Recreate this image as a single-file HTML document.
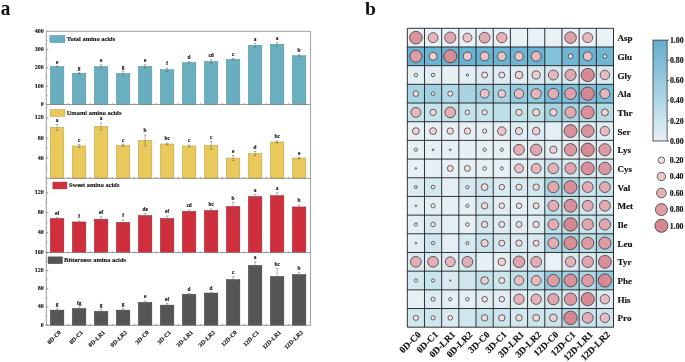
<!DOCTYPE html>
<html><head><meta charset="utf-8"><style>
html,body{margin:0;padding:0;background:#fff;}
svg{display:block;will-change:transform;}
text{font-family:"Liberation Serif",serif;font-weight:bold;fill:#111;}
.sm{stroke:#111;stroke-width:0.12px;}
.md{stroke:#111;stroke-width:0.15px;}
</style></head><body>
<svg width="685" height="362" viewBox="0 0 685 362">
<rect width="685" height="362" fill="#fff"/>
<text transform="translate(0.7,14.9) scale(0.96,1)" font-family="Liberation Serif" font-weight="bold" font-size="20">a</text>
<text transform="translate(365,14.5) scale(1.0,1)" font-family="Liberation Serif" font-weight="bold" font-size="19.6">b</text>
<rect x="50.35" y="66.52" width="13.5" height="37.98" fill="#69afbf" stroke="#4f8e9c" stroke-width="0.5"/>
<path d="M57.10 66.15V66.89M55.80 66.15h2.6M55.80 66.89h2.6" stroke="#666" stroke-width="0.5" fill="none"/>
<text x="57.10" y="63.55" font-family="Liberation Serif" font-weight="bold" font-size="5.3" text-anchor="middle" class="sm">e</text>
<rect x="72.35" y="73.29" width="13.5" height="31.21" fill="#69afbf" stroke="#4f8e9c" stroke-width="0.5"/>
<path d="M79.10 72.56V74.02M77.80 72.56h2.6M77.80 74.02h2.6" stroke="#666" stroke-width="0.5" fill="none"/>
<text x="79.10" y="69.96" font-family="Liberation Serif" font-weight="bold" font-size="5.3" text-anchor="middle" class="sm">g</text>
<rect x="94.35" y="66.52" width="13.5" height="37.98" fill="#69afbf" stroke="#4f8e9c" stroke-width="0.5"/>
<path d="M101.10 64.69V68.35M99.80 64.69h2.6M99.80 68.35h2.6" stroke="#666" stroke-width="0.5" fill="none"/>
<text x="101.10" y="62.09" font-family="Liberation Serif" font-weight="bold" font-size="5.3" text-anchor="middle" class="sm">e</text>
<rect x="116.35" y="73.47" width="13.5" height="31.03" fill="#69afbf" stroke="#4f8e9c" stroke-width="0.5"/>
<path d="M123.10 71.28V75.67M121.80 71.28h2.6M121.80 75.67h2.6" stroke="#666" stroke-width="0.5" fill="none"/>
<text x="123.10" y="68.68" font-family="Liberation Serif" font-weight="bold" font-size="5.3" text-anchor="middle" class="sm">g</text>
<rect x="138.35" y="66.34" width="13.5" height="38.16" fill="#69afbf" stroke="#4f8e9c" stroke-width="0.5"/>
<path d="M145.10 64.69V67.98M143.80 64.69h2.6M143.80 67.98h2.6" stroke="#666" stroke-width="0.5" fill="none"/>
<text x="145.10" y="62.09" font-family="Liberation Serif" font-weight="bold" font-size="5.3" text-anchor="middle" class="sm">e</text>
<rect x="160.35" y="69.63" width="13.5" height="34.87" fill="#69afbf" stroke="#4f8e9c" stroke-width="0.5"/>
<path d="M167.10 67.98V71.28M165.80 67.98h2.6M165.80 71.28h2.6" stroke="#666" stroke-width="0.5" fill="none"/>
<text x="167.10" y="65.38" font-family="Liberation Serif" font-weight="bold" font-size="5.3" text-anchor="middle" class="sm">f</text>
<rect x="182.35" y="62.68" width="13.5" height="41.82" fill="#69afbf" stroke="#4f8e9c" stroke-width="0.5"/>
<path d="M189.10 61.58V63.78M187.80 61.58h2.6M187.80 63.78h2.6" stroke="#666" stroke-width="0.5" fill="none"/>
<text x="189.10" y="58.98" font-family="Liberation Serif" font-weight="bold" font-size="5.3" text-anchor="middle" class="sm">d</text>
<rect x="204.35" y="61.58" width="13.5" height="42.92" fill="#69afbf" stroke="#4f8e9c" stroke-width="0.5"/>
<path d="M211.10 59.75V63.41M209.80 59.75h2.6M209.80 63.41h2.6" stroke="#666" stroke-width="0.5" fill="none"/>
<text x="211.10" y="57.15" font-family="Liberation Serif" font-weight="bold" font-size="5.3" text-anchor="middle" class="sm">cd</text>
<rect x="226.35" y="59.38" width="13.5" height="45.12" fill="#69afbf" stroke="#4f8e9c" stroke-width="0.5"/>
<path d="M233.10 58.47V60.30M231.80 58.47h2.6M231.80 60.30h2.6" stroke="#666" stroke-width="0.5" fill="none"/>
<text x="233.10" y="55.87" font-family="Liberation Serif" font-weight="bold" font-size="5.3" text-anchor="middle" class="sm">c</text>
<rect x="248.35" y="45.29" width="13.5" height="59.21" fill="#69afbf" stroke="#4f8e9c" stroke-width="0.5"/>
<path d="M255.10 43.28V47.30M253.80 43.28h2.6M253.80 47.30h2.6" stroke="#666" stroke-width="0.5" fill="none"/>
<text x="255.10" y="40.68" font-family="Liberation Serif" font-weight="bold" font-size="5.3" text-anchor="middle" class="sm">a</text>
<rect x="270.35" y="44.19" width="13.5" height="60.31" fill="#69afbf" stroke="#4f8e9c" stroke-width="0.5"/>
<path d="M277.10 42.36V46.02M275.80 42.36h2.6M275.80 46.02h2.6" stroke="#666" stroke-width="0.5" fill="none"/>
<text x="277.10" y="39.76" font-family="Liberation Serif" font-weight="bold" font-size="5.3" text-anchor="middle" class="sm">a</text>
<rect x="292.35" y="55.72" width="13.5" height="48.78" fill="#69afbf" stroke="#4f8e9c" stroke-width="0.5"/>
<path d="M299.10 54.63V56.82M297.80 54.63h2.6M297.80 56.82h2.6" stroke="#666" stroke-width="0.5" fill="none"/>
<text x="299.10" y="52.03" font-family="Liberation Serif" font-weight="bold" font-size="5.3" text-anchor="middle" class="sm">b</text>
<text x="43.7" y="106.00" font-family="Liberation Serif" font-weight="bold" font-size="6" text-anchor="end" class="sm">0</text>
<path d="M46.3 104.50h2" stroke="#333" stroke-width="0.6"/>
<text x="43.7" y="87.70" font-family="Liberation Serif" font-weight="bold" font-size="6" text-anchor="end" class="sm">100</text>
<path d="M46.3 86.20h2" stroke="#333" stroke-width="0.6"/>
<text x="43.7" y="69.40" font-family="Liberation Serif" font-weight="bold" font-size="6" text-anchor="end" class="sm">200</text>
<path d="M46.3 67.90h2" stroke="#333" stroke-width="0.6"/>
<text x="43.7" y="51.10" font-family="Liberation Serif" font-weight="bold" font-size="6" text-anchor="end" class="sm">300</text>
<path d="M46.3 49.60h2" stroke="#333" stroke-width="0.6"/>
<text x="43.7" y="32.80" font-family="Liberation Serif" font-weight="bold" font-size="6" text-anchor="end" class="sm">400</text>
<path d="M46.3 31.30h2" stroke="#333" stroke-width="0.6"/>
<path d="M46.3 95.35h1.2" stroke="#333" stroke-width="0.5"/>
<path d="M46.3 77.05h1.2" stroke="#333" stroke-width="0.5"/>
<path d="M46.3 58.75h1.2" stroke="#333" stroke-width="0.5"/>
<path d="M46.3 40.45h1.2" stroke="#333" stroke-width="0.5"/>
<path d="M46.30 104.50v-1.2" stroke="#333" stroke-width="0.6"/>
<path d="M68.30 104.50v-1.2" stroke="#333" stroke-width="0.6"/>
<path d="M90.30 104.50v-1.2" stroke="#333" stroke-width="0.6"/>
<path d="M112.30 104.50v-1.2" stroke="#333" stroke-width="0.6"/>
<path d="M134.30 104.50v-1.2" stroke="#333" stroke-width="0.6"/>
<path d="M156.30 104.50v-1.2" stroke="#333" stroke-width="0.6"/>
<path d="M178.30 104.50v-1.2" stroke="#333" stroke-width="0.6"/>
<path d="M200.30 104.50v-1.2" stroke="#333" stroke-width="0.6"/>
<path d="M222.30 104.50v-1.2" stroke="#333" stroke-width="0.6"/>
<path d="M244.30 104.50v-1.2" stroke="#333" stroke-width="0.6"/>
<path d="M266.30 104.50v-1.2" stroke="#333" stroke-width="0.6"/>
<path d="M288.30 104.50v-1.2" stroke="#333" stroke-width="0.6"/>
<path d="M310.30 104.50v-1.2" stroke="#333" stroke-width="0.6"/>
<rect x="49.9" y="35.5" width="15" height="7.1" fill="#69afbf" stroke="#4f8e9c" stroke-width="0.5"/>
<text x="66.8" y="41.3" font-family="Liberation Serif" font-weight="bold" font-size="6.45" class="sm">Total amino acids</text>
<path d="M46.3 31.3V104.5M310.5 31.3V104.5" stroke="#a4a4a4" stroke-width="1.1" fill="none"/>
<path d="M46.3 104.5H310.5" stroke="#808080" stroke-width="0.8" fill="none"/>
<rect x="50.35" y="127.39" width="13.5" height="50.91" fill="#e9c95b" stroke="#b59a3c" stroke-width="0.5"/>
<path d="M57.10 124.38V130.41M55.80 124.38h2.6M55.80 130.41h2.6" stroke="#666" stroke-width="0.5" fill="none"/>
<text x="57.10" y="121.78" font-family="Liberation Serif" font-weight="bold" font-size="5.3" text-anchor="middle" class="sm">a</text>
<rect x="72.35" y="145.99" width="13.5" height="32.31" fill="#e9c95b" stroke="#b59a3c" stroke-width="0.5"/>
<path d="M79.10 144.48V147.49M77.80 144.48h2.6M77.80 147.49h2.6" stroke="#666" stroke-width="0.5" fill="none"/>
<text x="79.10" y="141.88" font-family="Liberation Serif" font-weight="bold" font-size="5.3" text-anchor="middle" class="sm">c</text>
<rect x="94.35" y="126.39" width="13.5" height="51.91" fill="#e9c95b" stroke="#b59a3c" stroke-width="0.5"/>
<path d="M101.10 122.87V129.91M99.80 122.87h2.6M99.80 129.91h2.6" stroke="#666" stroke-width="0.5" fill="none"/>
<text x="101.10" y="120.27" font-family="Liberation Serif" font-weight="bold" font-size="5.3" text-anchor="middle" class="sm">a</text>
<rect x="116.35" y="145.48" width="13.5" height="32.82" fill="#e9c95b" stroke="#b59a3c" stroke-width="0.5"/>
<path d="M123.10 144.48V146.49M121.80 144.48h2.6M121.80 146.49h2.6" stroke="#666" stroke-width="0.5" fill="none"/>
<text x="123.10" y="141.88" font-family="Liberation Serif" font-weight="bold" font-size="5.3" text-anchor="middle" class="sm">c</text>
<rect x="138.35" y="140.46" width="13.5" height="37.84" fill="#e9c95b" stroke="#b59a3c" stroke-width="0.5"/>
<path d="M145.10 134.93V145.99M143.80 134.93h2.6M143.80 145.99h2.6" stroke="#666" stroke-width="0.5" fill="none"/>
<text x="145.10" y="132.33" font-family="Liberation Serif" font-weight="bold" font-size="5.3" text-anchor="middle" class="sm">b</text>
<rect x="160.35" y="143.98" width="13.5" height="34.32" fill="#e9c95b" stroke="#b59a3c" stroke-width="0.5"/>
<path d="M167.10 142.97V144.98M165.80 142.97h2.6M165.80 144.98h2.6" stroke="#666" stroke-width="0.5" fill="none"/>
<text x="167.10" y="140.37" font-family="Liberation Serif" font-weight="bold" font-size="5.3" text-anchor="middle" class="sm">bc</text>
<rect x="182.35" y="145.99" width="13.5" height="32.31" fill="#e9c95b" stroke="#b59a3c" stroke-width="0.5"/>
<path d="M189.10 144.98V146.99M187.80 144.98h2.6M187.80 146.99h2.6" stroke="#666" stroke-width="0.5" fill="none"/>
<text x="189.10" y="142.38" font-family="Liberation Serif" font-weight="bold" font-size="5.3" text-anchor="middle" class="sm">c</text>
<rect x="204.35" y="145.48" width="13.5" height="32.82" fill="#e9c95b" stroke="#b59a3c" stroke-width="0.5"/>
<path d="M211.10 141.46V149.50M209.80 141.46h2.6M209.80 149.50h2.6" stroke="#666" stroke-width="0.5" fill="none"/>
<text x="211.10" y="138.86" font-family="Liberation Serif" font-weight="bold" font-size="5.3" text-anchor="middle" class="sm">c</text>
<rect x="226.35" y="158.05" width="13.5" height="20.25" fill="#e9c95b" stroke="#b59a3c" stroke-width="0.5"/>
<path d="M233.10 155.53V160.56M231.80 155.53h2.6M231.80 160.56h2.6" stroke="#666" stroke-width="0.5" fill="none"/>
<text x="233.10" y="152.94" font-family="Liberation Serif" font-weight="bold" font-size="5.3" text-anchor="middle" class="sm">e</text>
<rect x="248.35" y="153.52" width="13.5" height="24.78" fill="#e9c95b" stroke="#b59a3c" stroke-width="0.5"/>
<path d="M255.10 151.51V155.53M253.80 151.51h2.6M253.80 155.53h2.6" stroke="#666" stroke-width="0.5" fill="none"/>
<text x="255.10" y="148.91" font-family="Liberation Serif" font-weight="bold" font-size="5.3" text-anchor="middle" class="sm">d</text>
<rect x="270.35" y="141.97" width="13.5" height="36.33" fill="#e9c95b" stroke="#b59a3c" stroke-width="0.5"/>
<path d="M277.10 140.96V142.97M275.80 140.96h2.6M275.80 142.97h2.6" stroke="#666" stroke-width="0.5" fill="none"/>
<text x="277.10" y="138.36" font-family="Liberation Serif" font-weight="bold" font-size="5.3" text-anchor="middle" class="sm">bc</text>
<rect x="292.35" y="158.05" width="13.5" height="20.25" fill="#e9c95b" stroke="#b59a3c" stroke-width="0.5"/>
<path d="M299.10 157.29V158.80M297.80 157.29h2.6M297.80 158.80h2.6" stroke="#666" stroke-width="0.5" fill="none"/>
<text x="299.10" y="154.69" font-family="Liberation Serif" font-weight="bold" font-size="5.3" text-anchor="middle" class="sm">e</text>
<text x="43.7" y="159.60" font-family="Liberation Serif" font-weight="bold" font-size="6" text-anchor="end" class="sm">40</text>
<path d="M46.3 158.10h2" stroke="#333" stroke-width="0.6"/>
<text x="43.7" y="139.50" font-family="Liberation Serif" font-weight="bold" font-size="6" text-anchor="end" class="sm">80</text>
<path d="M46.3 138.00h2" stroke="#333" stroke-width="0.6"/>
<text x="43.7" y="119.40" font-family="Liberation Serif" font-weight="bold" font-size="6" text-anchor="end" class="sm">120</text>
<path d="M46.3 117.90h2" stroke="#333" stroke-width="0.6"/>
<path d="M46.3 168.15h1.2" stroke="#333" stroke-width="0.5"/>
<path d="M46.3 148.05h1.2" stroke="#333" stroke-width="0.5"/>
<path d="M46.3 127.95h1.2" stroke="#333" stroke-width="0.5"/>
<path d="M46.3 107.85h1.2" stroke="#333" stroke-width="0.5"/>
<path d="M46.30 178.30v-1.2" stroke="#333" stroke-width="0.6"/>
<path d="M68.30 178.30v-1.2" stroke="#333" stroke-width="0.6"/>
<path d="M90.30 178.30v-1.2" stroke="#333" stroke-width="0.6"/>
<path d="M112.30 178.30v-1.2" stroke="#333" stroke-width="0.6"/>
<path d="M134.30 178.30v-1.2" stroke="#333" stroke-width="0.6"/>
<path d="M156.30 178.30v-1.2" stroke="#333" stroke-width="0.6"/>
<path d="M178.30 178.30v-1.2" stroke="#333" stroke-width="0.6"/>
<path d="M200.30 178.30v-1.2" stroke="#333" stroke-width="0.6"/>
<path d="M222.30 178.30v-1.2" stroke="#333" stroke-width="0.6"/>
<path d="M244.30 178.30v-1.2" stroke="#333" stroke-width="0.6"/>
<path d="M266.30 178.30v-1.2" stroke="#333" stroke-width="0.6"/>
<path d="M288.30 178.30v-1.2" stroke="#333" stroke-width="0.6"/>
<path d="M310.30 178.30v-1.2" stroke="#333" stroke-width="0.6"/>
<rect x="50.3" y="109.7" width="14.6" height="6.6" fill="#e9c95b" stroke="#b59a3c" stroke-width="0.5"/>
<text x="66.7" y="114.8" font-family="Liberation Serif" font-weight="bold" font-size="6.45" class="sm">Umami amino acids</text>
<path d="M46.3 104.5V178.3M310.5 104.5V178.3" stroke="#a4a4a4" stroke-width="1.1" fill="none"/>
<path d="M46.3 178.3H310.5" stroke="#808080" stroke-width="0.8" fill="none"/>
<rect x="50.35" y="218.47" width="13.5" height="34.13" fill="#cf2f3c" stroke="#9c2530" stroke-width="0.5"/>
<path d="M57.10 217.48V219.47M55.80 217.48h2.6M55.80 219.47h2.6" stroke="#666" stroke-width="0.5" fill="none"/>
<text x="57.10" y="214.88" font-family="Liberation Serif" font-weight="bold" font-size="5.3" text-anchor="middle" class="sm">ef</text>
<rect x="72.35" y="221.96" width="13.5" height="30.64" fill="#cf2f3c" stroke="#9c2530" stroke-width="0.5"/>
<path d="M79.10 220.96V222.95M77.80 220.96h2.6M77.80 222.95h2.6" stroke="#666" stroke-width="0.5" fill="none"/>
<text x="79.10" y="218.36" font-family="Liberation Serif" font-weight="bold" font-size="5.3" text-anchor="middle" class="sm">f</text>
<rect x="94.35" y="219.22" width="13.5" height="33.38" fill="#cf2f3c" stroke="#9c2530" stroke-width="0.5"/>
<path d="M101.10 216.73V221.71M99.80 216.73h2.6M99.80 221.71h2.6" stroke="#666" stroke-width="0.5" fill="none"/>
<text x="101.10" y="214.13" font-family="Liberation Serif" font-weight="bold" font-size="5.3" text-anchor="middle" class="sm">ef</text>
<rect x="116.35" y="222.35" width="13.5" height="30.25" fill="#cf2f3c" stroke="#9c2530" stroke-width="0.5"/>
<path d="M123.10 219.87V224.84M121.80 219.87h2.6M121.80 224.84h2.6" stroke="#666" stroke-width="0.5" fill="none"/>
<text x="123.10" y="217.27" font-family="Liberation Serif" font-weight="bold" font-size="5.3" text-anchor="middle" class="sm">f</text>
<rect x="138.35" y="215.54" width="13.5" height="37.06" fill="#cf2f3c" stroke="#9c2530" stroke-width="0.5"/>
<path d="M145.10 213.55V217.53M143.80 213.55h2.6M143.80 217.53h2.6" stroke="#666" stroke-width="0.5" fill="none"/>
<text x="145.10" y="210.95" font-family="Liberation Serif" font-weight="bold" font-size="5.3" text-anchor="middle" class="sm">de</text>
<rect x="160.35" y="218.47" width="13.5" height="34.13" fill="#cf2f3c" stroke="#9c2530" stroke-width="0.5"/>
<path d="M167.10 215.99V220.96M165.80 215.99h2.6M165.80 220.96h2.6" stroke="#666" stroke-width="0.5" fill="none"/>
<text x="167.10" y="213.39" font-family="Liberation Serif" font-weight="bold" font-size="5.3" text-anchor="middle" class="sm">ef</text>
<rect x="182.35" y="211.36" width="13.5" height="41.24" fill="#cf2f3c" stroke="#9c2530" stroke-width="0.5"/>
<path d="M189.10 209.87V212.85M187.80 209.87h2.6M187.80 212.85h2.6" stroke="#666" stroke-width="0.5" fill="none"/>
<text x="189.10" y="207.27" font-family="Liberation Serif" font-weight="bold" font-size="5.3" text-anchor="middle" class="sm">cd</text>
<rect x="204.35" y="210.46" width="13.5" height="42.14" fill="#cf2f3c" stroke="#9c2530" stroke-width="0.5"/>
<path d="M211.10 208.97V211.96M209.80 208.97h2.6M209.80 211.96h2.6" stroke="#666" stroke-width="0.5" fill="none"/>
<text x="211.10" y="206.37" font-family="Liberation Serif" font-weight="bold" font-size="5.3" text-anchor="middle" class="sm">bc</text>
<rect x="226.35" y="206.43" width="13.5" height="46.17" fill="#cf2f3c" stroke="#9c2530" stroke-width="0.5"/>
<path d="M233.10 202.45V210.41M231.80 202.45h2.6M231.80 210.41h2.6" stroke="#666" stroke-width="0.5" fill="none"/>
<text x="233.10" y="199.85" font-family="Liberation Serif" font-weight="bold" font-size="5.3" text-anchor="middle" class="sm">b</text>
<rect x="248.35" y="196.53" width="13.5" height="56.07" fill="#cf2f3c" stroke="#9c2530" stroke-width="0.5"/>
<path d="M255.10 194.54V198.52M253.80 194.54h2.6M253.80 198.52h2.6" stroke="#666" stroke-width="0.5" fill="none"/>
<text x="255.10" y="191.94" font-family="Liberation Serif" font-weight="bold" font-size="5.3" text-anchor="middle" class="sm">a</text>
<rect x="270.35" y="195.64" width="13.5" height="56.96" fill="#cf2f3c" stroke="#9c2530" stroke-width="0.5"/>
<path d="M277.10 192.65V198.62M275.80 192.65h2.6M275.80 198.62h2.6" stroke="#666" stroke-width="0.5" fill="none"/>
<text x="277.10" y="190.05" font-family="Liberation Serif" font-weight="bold" font-size="5.3" text-anchor="middle" class="sm">a</text>
<rect x="292.35" y="206.93" width="13.5" height="45.67" fill="#cf2f3c" stroke="#9c2530" stroke-width="0.5"/>
<path d="M299.10 204.94V208.92M297.80 204.94h2.6M297.80 208.92h2.6" stroke="#666" stroke-width="0.5" fill="none"/>
<text x="299.10" y="202.34" font-family="Liberation Serif" font-weight="bold" font-size="5.3" text-anchor="middle" class="sm">b</text>
<text x="43.7" y="234.20" font-family="Liberation Serif" font-weight="bold" font-size="6" text-anchor="end" class="sm">40</text>
<path d="M46.3 232.70h2" stroke="#333" stroke-width="0.6"/>
<text x="43.7" y="214.30" font-family="Liberation Serif" font-weight="bold" font-size="6" text-anchor="end" class="sm">80</text>
<path d="M46.3 212.80h2" stroke="#333" stroke-width="0.6"/>
<text x="43.7" y="194.40" font-family="Liberation Serif" font-weight="bold" font-size="6" text-anchor="end" class="sm">120</text>
<path d="M46.3 192.90h2" stroke="#333" stroke-width="0.6"/>
<path d="M46.3 242.65h1.2" stroke="#333" stroke-width="0.5"/>
<path d="M46.3 222.75h1.2" stroke="#333" stroke-width="0.5"/>
<path d="M46.3 202.85h1.2" stroke="#333" stroke-width="0.5"/>
<path d="M46.3 182.95h1.2" stroke="#333" stroke-width="0.5"/>
<path d="M46.30 252.60v-1.2" stroke="#333" stroke-width="0.6"/>
<path d="M68.30 252.60v-1.2" stroke="#333" stroke-width="0.6"/>
<path d="M90.30 252.60v-1.2" stroke="#333" stroke-width="0.6"/>
<path d="M112.30 252.60v-1.2" stroke="#333" stroke-width="0.6"/>
<path d="M134.30 252.60v-1.2" stroke="#333" stroke-width="0.6"/>
<path d="M156.30 252.60v-1.2" stroke="#333" stroke-width="0.6"/>
<path d="M178.30 252.60v-1.2" stroke="#333" stroke-width="0.6"/>
<path d="M200.30 252.60v-1.2" stroke="#333" stroke-width="0.6"/>
<path d="M222.30 252.60v-1.2" stroke="#333" stroke-width="0.6"/>
<path d="M244.30 252.60v-1.2" stroke="#333" stroke-width="0.6"/>
<path d="M266.30 252.60v-1.2" stroke="#333" stroke-width="0.6"/>
<path d="M288.30 252.60v-1.2" stroke="#333" stroke-width="0.6"/>
<path d="M310.30 252.60v-1.2" stroke="#333" stroke-width="0.6"/>
<rect x="52.9" y="182.1" width="14" height="6.8" fill="#cf2f3c" stroke="#9c2530" stroke-width="0.5"/>
<text x="69" y="187.2" font-family="Liberation Serif" font-weight="bold" font-size="6.45" class="sm">Sweet amino acids</text>
<path d="M46.3 178.3V252.6M310.5 178.3V252.6" stroke="#a4a4a4" stroke-width="1.1" fill="none"/>
<path d="M46.3 252.6H310.5" stroke="#808080" stroke-width="0.8" fill="none"/>
<rect x="50.35" y="310.12" width="13.5" height="15.18" fill="#555555" stroke="#3a3a3a" stroke-width="0.5"/>
<path d="M57.10 308.76V311.48M55.80 308.76h2.6M55.80 311.48h2.6" stroke="#666" stroke-width="0.5" fill="none"/>
<text x="57.10" y="306.16" font-family="Liberation Serif" font-weight="bold" font-size="5.3" text-anchor="middle" class="sm">g</text>
<rect x="72.35" y="308.58" width="13.5" height="16.72" fill="#555555" stroke="#3a3a3a" stroke-width="0.5"/>
<path d="M79.10 307.67V309.49M77.80 307.67h2.6M77.80 309.49h2.6" stroke="#666" stroke-width="0.5" fill="none"/>
<text x="79.10" y="305.07" font-family="Liberation Serif" font-weight="bold" font-size="5.3" text-anchor="middle" class="sm">fg</text>
<rect x="94.35" y="311.35" width="13.5" height="13.95" fill="#555555" stroke="#3a3a3a" stroke-width="0.5"/>
<path d="M101.10 309.53V313.16M99.80 309.53h2.6M99.80 313.16h2.6" stroke="#666" stroke-width="0.5" fill="none"/>
<text x="101.10" y="306.93" font-family="Liberation Serif" font-weight="bold" font-size="5.3" text-anchor="middle" class="sm">g</text>
<rect x="116.35" y="310.12" width="13.5" height="15.18" fill="#555555" stroke="#3a3a3a" stroke-width="0.5"/>
<path d="M123.10 308.76V311.48M121.80 308.76h2.6M121.80 311.48h2.6" stroke="#666" stroke-width="0.5" fill="none"/>
<text x="123.10" y="306.16" font-family="Liberation Serif" font-weight="bold" font-size="5.3" text-anchor="middle" class="sm">g</text>
<rect x="138.35" y="302.41" width="13.5" height="22.89" fill="#555555" stroke="#3a3a3a" stroke-width="0.5"/>
<path d="M145.10 301.05V303.77M143.80 301.05h2.6M143.80 303.77h2.6" stroke="#666" stroke-width="0.5" fill="none"/>
<text x="145.10" y="298.45" font-family="Liberation Serif" font-weight="bold" font-size="5.3" text-anchor="middle" class="sm">e</text>
<rect x="160.35" y="305.13" width="13.5" height="20.17" fill="#555555" stroke="#3a3a3a" stroke-width="0.5"/>
<path d="M167.10 303.32V306.95M165.80 303.32h2.6M165.80 306.95h2.6" stroke="#666" stroke-width="0.5" fill="none"/>
<text x="167.10" y="300.72" font-family="Liberation Serif" font-weight="bold" font-size="5.3" text-anchor="middle" class="sm">ef</text>
<rect x="182.35" y="294.38" width="13.5" height="30.92" fill="#555555" stroke="#3a3a3a" stroke-width="0.5"/>
<path d="M189.10 293.47V295.28M187.80 293.47h2.6M187.80 295.28h2.6" stroke="#666" stroke-width="0.5" fill="none"/>
<text x="189.10" y="290.87" font-family="Liberation Serif" font-weight="bold" font-size="5.3" text-anchor="middle" class="sm">d</text>
<rect x="204.35" y="293.06" width="13.5" height="32.24" fill="#555555" stroke="#3a3a3a" stroke-width="0.5"/>
<path d="M211.10 292.15V293.97M209.80 292.15h2.6M209.80 293.97h2.6" stroke="#666" stroke-width="0.5" fill="none"/>
<text x="211.10" y="289.55" font-family="Liberation Serif" font-weight="bold" font-size="5.3" text-anchor="middle" class="sm">d</text>
<rect x="226.35" y="279.59" width="13.5" height="45.71" fill="#555555" stroke="#3a3a3a" stroke-width="0.5"/>
<path d="M233.10 276.86V282.31M231.80 276.86h2.6M231.80 282.31h2.6" stroke="#666" stroke-width="0.5" fill="none"/>
<text x="233.10" y="274.26" font-family="Liberation Serif" font-weight="bold" font-size="5.3" text-anchor="middle" class="sm">c</text>
<rect x="248.35" y="265.47" width="13.5" height="59.83" fill="#555555" stroke="#3a3a3a" stroke-width="0.5"/>
<path d="M255.10 261.84V269.10M253.80 261.84h2.6M253.80 269.10h2.6" stroke="#666" stroke-width="0.5" fill="none"/>
<text x="255.10" y="259.24" font-family="Liberation Serif" font-weight="bold" font-size="5.3" text-anchor="middle" class="sm">a</text>
<rect x="270.35" y="276.45" width="13.5" height="48.85" fill="#555555" stroke="#3a3a3a" stroke-width="0.5"/>
<path d="M277.10 268.29V284.62M275.80 268.29h2.6M275.80 284.62h2.6" stroke="#666" stroke-width="0.5" fill="none"/>
<text x="277.10" y="265.69" font-family="Liberation Serif" font-weight="bold" font-size="5.3" text-anchor="middle" class="sm">bc</text>
<rect x="292.35" y="274.59" width="13.5" height="50.71" fill="#555555" stroke="#3a3a3a" stroke-width="0.5"/>
<path d="M299.10 272.33V276.86M297.80 272.33h2.6M297.80 276.86h2.6" stroke="#666" stroke-width="0.5" fill="none"/>
<text x="299.10" y="269.73" font-family="Liberation Serif" font-weight="bold" font-size="5.3" text-anchor="middle" class="sm">b</text>
<text x="43.7" y="326.60" font-family="Liberation Serif" font-weight="bold" font-size="6" text-anchor="end" class="sm">0</text>
<path d="M46.3 325.10h2" stroke="#333" stroke-width="0.6"/>
<text x="43.7" y="308.45" font-family="Liberation Serif" font-weight="bold" font-size="6" text-anchor="end" class="sm">40</text>
<path d="M46.3 306.95h2" stroke="#333" stroke-width="0.6"/>
<text x="43.7" y="290.30" font-family="Liberation Serif" font-weight="bold" font-size="6" text-anchor="end" class="sm">80</text>
<path d="M46.3 288.80h2" stroke="#333" stroke-width="0.6"/>
<text x="43.7" y="272.15" font-family="Liberation Serif" font-weight="bold" font-size="6" text-anchor="end" class="sm">120</text>
<path d="M46.3 270.65h2" stroke="#333" stroke-width="0.6"/>
<text x="43.7" y="254.00" font-family="Liberation Serif" font-weight="bold" font-size="6" text-anchor="end" class="sm">160</text>
<path d="M46.3 252.50h2" stroke="#333" stroke-width="0.6"/>
<path d="M46.3 316.03h1.2" stroke="#333" stroke-width="0.5"/>
<path d="M46.3 297.88h1.2" stroke="#333" stroke-width="0.5"/>
<path d="M46.3 279.73h1.2" stroke="#333" stroke-width="0.5"/>
<path d="M46.3 261.58h1.2" stroke="#333" stroke-width="0.5"/>
<path d="M46.30 325.30v-1.2" stroke="#333" stroke-width="0.6"/>
<path d="M68.30 325.30v-1.2" stroke="#333" stroke-width="0.6"/>
<path d="M90.30 325.30v-1.2" stroke="#333" stroke-width="0.6"/>
<path d="M112.30 325.30v-1.2" stroke="#333" stroke-width="0.6"/>
<path d="M134.30 325.30v-1.2" stroke="#333" stroke-width="0.6"/>
<path d="M156.30 325.30v-1.2" stroke="#333" stroke-width="0.6"/>
<path d="M178.30 325.30v-1.2" stroke="#333" stroke-width="0.6"/>
<path d="M200.30 325.30v-1.2" stroke="#333" stroke-width="0.6"/>
<path d="M222.30 325.30v-1.2" stroke="#333" stroke-width="0.6"/>
<path d="M244.30 325.30v-1.2" stroke="#333" stroke-width="0.6"/>
<path d="M266.30 325.30v-1.2" stroke="#333" stroke-width="0.6"/>
<path d="M288.30 325.30v-1.2" stroke="#333" stroke-width="0.6"/>
<path d="M310.30 325.30v-1.2" stroke="#333" stroke-width="0.6"/>
<rect x="48.1" y="256.9" width="14.3" height="6.7" fill="#555555" stroke="#3a3a3a" stroke-width="0.5"/>
<text x="64.1" y="261.7" font-family="Liberation Serif" font-weight="bold" font-size="6.45" class="sm">Bitterness amino acids</text>
<path d="M46.3 252.6V325.3M310.5 252.6V325.3" stroke="#a4a4a4" stroke-width="1.1" fill="none"/>
<path d="M46.3 325.3H310.5" stroke="#808080" stroke-width="0.8" fill="none"/>
<path d="M46.3 31.3H310.5" stroke="#a0a0a0" stroke-width="1"/>
<text transform="translate(58.65,330.05) rotate(-45)" font-family="Liberation Serif" font-weight="bold" font-size="6" text-anchor="end" dominant-baseline="hanging" class="sm">0D-C0</text>
<text transform="translate(80.65,330.05) rotate(-45)" font-family="Liberation Serif" font-weight="bold" font-size="6" text-anchor="end" dominant-baseline="hanging" class="sm">0D-C1</text>
<text transform="translate(102.65,330.05) rotate(-45)" font-family="Liberation Serif" font-weight="bold" font-size="6" text-anchor="end" dominant-baseline="hanging" class="sm">0D-LR1</text>
<text transform="translate(124.65,330.05) rotate(-45)" font-family="Liberation Serif" font-weight="bold" font-size="6" text-anchor="end" dominant-baseline="hanging" class="sm">0D-LR2</text>
<text transform="translate(146.65,330.05) rotate(-45)" font-family="Liberation Serif" font-weight="bold" font-size="6" text-anchor="end" dominant-baseline="hanging" class="sm">3D-C0</text>
<text transform="translate(168.65,330.05) rotate(-45)" font-family="Liberation Serif" font-weight="bold" font-size="6" text-anchor="end" dominant-baseline="hanging" class="sm">3D-C1</text>
<text transform="translate(190.65,330.05) rotate(-45)" font-family="Liberation Serif" font-weight="bold" font-size="6" text-anchor="end" dominant-baseline="hanging" class="sm">3D-LR1</text>
<text transform="translate(212.65,330.05) rotate(-45)" font-family="Liberation Serif" font-weight="bold" font-size="6" text-anchor="end" dominant-baseline="hanging" class="sm">3D-LR2</text>
<text transform="translate(234.65,330.05) rotate(-45)" font-family="Liberation Serif" font-weight="bold" font-size="6" text-anchor="end" dominant-baseline="hanging" class="sm">12D-C0</text>
<text transform="translate(256.65,330.05) rotate(-45)" font-family="Liberation Serif" font-weight="bold" font-size="6" text-anchor="end" dominant-baseline="hanging" class="sm">12D-C1</text>
<text transform="translate(278.65,330.05) rotate(-45)" font-family="Liberation Serif" font-weight="bold" font-size="6" text-anchor="end" dominant-baseline="hanging" class="sm">12D-LR1</text>
<text transform="translate(300.65,330.05) rotate(-45)" font-family="Liberation Serif" font-weight="bold" font-size="6" text-anchor="end" dominant-baseline="hanging" class="sm">12D-LR2</text>
<rect x="407.30" y="28.30" width="17.18" height="18.68" fill="#e9f0f6"/>
<rect x="424.48" y="28.30" width="17.18" height="18.68" fill="#e9f0f6"/>
<rect x="441.67" y="28.30" width="17.18" height="18.68" fill="#e9f0f6"/>
<rect x="458.85" y="28.30" width="17.18" height="18.68" fill="#e9f0f6"/>
<rect x="476.03" y="28.30" width="17.18" height="18.68" fill="#e9f0f6"/>
<rect x="493.22" y="28.30" width="17.18" height="18.68" fill="#e9f0f6"/>
<rect x="510.40" y="28.30" width="17.18" height="18.68" fill="#e9f0f6"/>
<rect x="527.58" y="28.30" width="17.18" height="18.68" fill="#e9f0f6"/>
<rect x="544.77" y="28.30" width="17.18" height="18.68" fill="#e9f0f6"/>
<rect x="561.95" y="28.30" width="17.18" height="18.68" fill="#e9f0f6"/>
<rect x="579.13" y="28.30" width="17.18" height="18.68" fill="#e9f0f6"/>
<rect x="596.32" y="28.30" width="17.18" height="18.68" fill="#e9f0f6"/>
<rect x="407.30" y="46.98" width="17.18" height="18.68" fill="#6ab3d3"/>
<rect x="424.48" y="46.98" width="17.18" height="18.68" fill="#6bb3d3"/>
<rect x="441.67" y="46.98" width="17.18" height="18.68" fill="#6db4d3"/>
<rect x="458.85" y="46.98" width="17.18" height="18.68" fill="#6ab2d2"/>
<rect x="476.03" y="46.98" width="17.18" height="18.68" fill="#6db4d3"/>
<rect x="493.22" y="46.98" width="17.18" height="18.68" fill="#6bb3d3"/>
<rect x="510.40" y="46.98" width="17.18" height="18.68" fill="#6db4d3"/>
<rect x="527.58" y="46.98" width="17.18" height="18.68" fill="#6ab2d2"/>
<rect x="544.77" y="46.98" width="17.18" height="18.68" fill="#80c3d9"/>
<rect x="561.95" y="46.98" width="17.18" height="18.68" fill="#70b5d2"/>
<rect x="579.13" y="46.98" width="17.18" height="18.68" fill="#6db4d3"/>
<rect x="596.32" y="46.98" width="17.18" height="18.68" fill="#70b5d2"/>
<rect x="407.30" y="65.66" width="17.18" height="18.68" fill="#e3eff4"/>
<rect x="424.48" y="65.66" width="17.18" height="18.68" fill="#e0edf3"/>
<rect x="441.67" y="65.66" width="17.18" height="18.68" fill="#e6f0f5"/>
<rect x="458.85" y="65.66" width="17.18" height="18.68" fill="#e3eff4"/>
<rect x="476.03" y="65.66" width="17.18" height="18.68" fill="#dcecf2"/>
<rect x="493.22" y="65.66" width="17.18" height="18.68" fill="#dcecf2"/>
<rect x="510.40" y="65.66" width="17.18" height="18.68" fill="#dcecf2"/>
<rect x="527.58" y="65.66" width="17.18" height="18.68" fill="#d8eaf0"/>
<rect x="544.77" y="65.66" width="17.18" height="18.68" fill="#d6e9f0"/>
<rect x="561.95" y="65.66" width="17.18" height="18.68" fill="#d6e9f0"/>
<rect x="579.13" y="65.66" width="17.18" height="18.68" fill="#dcecf2"/>
<rect x="596.32" y="65.66" width="17.18" height="18.68" fill="#d8eaf0"/>
<rect x="407.30" y="84.34" width="17.18" height="18.68" fill="#a6d4e3"/>
<rect x="424.48" y="84.34" width="17.18" height="18.68" fill="#a1d1e1"/>
<rect x="441.67" y="84.34" width="17.18" height="18.68" fill="#b0d8e6"/>
<rect x="458.85" y="84.34" width="17.18" height="18.68" fill="#a7d3e3"/>
<rect x="476.03" y="84.34" width="17.18" height="18.68" fill="#a1d1e1"/>
<rect x="493.22" y="84.34" width="17.18" height="18.68" fill="#a8d4e2"/>
<rect x="510.40" y="84.34" width="17.18" height="18.68" fill="#93cbdf"/>
<rect x="527.58" y="84.34" width="17.18" height="18.68" fill="#90cade"/>
<rect x="544.77" y="84.34" width="17.18" height="18.68" fill="#75bcda"/>
<rect x="561.95" y="84.34" width="17.18" height="18.68" fill="#7bbfdb"/>
<rect x="579.13" y="84.34" width="17.18" height="18.68" fill="#86c3db"/>
<rect x="596.32" y="84.34" width="17.18" height="18.68" fill="#78bddb"/>
<rect x="407.30" y="103.02" width="17.18" height="18.68" fill="#c5e3ea"/>
<rect x="424.48" y="103.02" width="17.18" height="18.68" fill="#c5e3ea"/>
<rect x="441.67" y="103.02" width="17.18" height="18.68" fill="#c5e3ea"/>
<rect x="458.85" y="103.02" width="17.18" height="18.68" fill="#c5e3ea"/>
<rect x="476.03" y="103.02" width="17.18" height="18.68" fill="#c5e3ea"/>
<rect x="493.22" y="103.02" width="17.18" height="18.68" fill="#bcdfe8"/>
<rect x="510.40" y="103.02" width="17.18" height="18.68" fill="#c2e2ea"/>
<rect x="527.58" y="103.02" width="17.18" height="18.68" fill="#bde0e8"/>
<rect x="544.77" y="103.02" width="17.18" height="18.68" fill="#a7d3e1"/>
<rect x="561.95" y="103.02" width="17.18" height="18.68" fill="#a8d4e1"/>
<rect x="579.13" y="103.02" width="17.18" height="18.68" fill="#b5dbe6"/>
<rect x="596.32" y="103.02" width="17.18" height="18.68" fill="#b5dae4"/>
<rect x="407.30" y="121.71" width="17.18" height="18.68" fill="#e6eff4"/>
<rect x="424.48" y="121.71" width="17.18" height="18.68" fill="#e6eff4"/>
<rect x="441.67" y="121.71" width="17.18" height="18.68" fill="#e6eff4"/>
<rect x="458.85" y="121.71" width="17.18" height="18.68" fill="#e6eff4"/>
<rect x="476.03" y="121.71" width="17.18" height="18.68" fill="#e6eff4"/>
<rect x="493.22" y="121.71" width="17.18" height="18.68" fill="#e6eff4"/>
<rect x="510.40" y="121.71" width="17.18" height="18.68" fill="#dcedf3"/>
<rect x="527.58" y="121.71" width="17.18" height="18.68" fill="#dcedf3"/>
<rect x="544.77" y="121.71" width="17.18" height="18.68" fill="#e3eff4"/>
<rect x="561.95" y="121.71" width="17.18" height="18.68" fill="#dcedf3"/>
<rect x="579.13" y="121.71" width="17.18" height="18.68" fill="#dcedf3"/>
<rect x="596.32" y="121.71" width="17.18" height="18.68" fill="#dcedf3"/>
<rect x="407.30" y="140.39" width="17.18" height="18.68" fill="#e6f0f5"/>
<rect x="424.48" y="140.39" width="17.18" height="18.68" fill="#e6f0f5"/>
<rect x="441.67" y="140.39" width="17.18" height="18.68" fill="#e6f0f5"/>
<rect x="458.85" y="140.39" width="17.18" height="18.68" fill="#e6f0f5"/>
<rect x="476.03" y="140.39" width="17.18" height="18.68" fill="#e6f0f5"/>
<rect x="493.22" y="140.39" width="17.18" height="18.68" fill="#e6f0f5"/>
<rect x="510.40" y="140.39" width="17.18" height="18.68" fill="#e2eef4"/>
<rect x="527.58" y="140.39" width="17.18" height="18.68" fill="#e2eef4"/>
<rect x="544.77" y="140.39" width="17.18" height="18.68" fill="#e2eef4"/>
<rect x="561.95" y="140.39" width="17.18" height="18.68" fill="#e2eef4"/>
<rect x="579.13" y="140.39" width="17.18" height="18.68" fill="#e2eef4"/>
<rect x="596.32" y="140.39" width="17.18" height="18.68" fill="#e2eef4"/>
<rect x="407.30" y="159.07" width="17.18" height="18.68" fill="#e6f0f5"/>
<rect x="424.48" y="159.07" width="17.18" height="18.68" fill="#e6f0f5"/>
<rect x="441.67" y="159.07" width="17.18" height="18.68" fill="#e6f0f5"/>
<rect x="458.85" y="159.07" width="17.18" height="18.68" fill="#e6f0f5"/>
<rect x="476.03" y="159.07" width="17.18" height="18.68" fill="#e6f0f5"/>
<rect x="493.22" y="159.07" width="17.18" height="18.68" fill="#e6f0f5"/>
<rect x="510.40" y="159.07" width="17.18" height="18.68" fill="#e0edf3"/>
<rect x="527.58" y="159.07" width="17.18" height="18.68" fill="#dbebf2"/>
<rect x="544.77" y="159.07" width="17.18" height="18.68" fill="#cde6ee"/>
<rect x="561.95" y="159.07" width="17.18" height="18.68" fill="#d4e9f0"/>
<rect x="579.13" y="159.07" width="17.18" height="18.68" fill="#d4e8ef"/>
<rect x="596.32" y="159.07" width="17.18" height="18.68" fill="#d6eaf1"/>
<rect x="407.30" y="177.75" width="17.18" height="18.68" fill="#dcecf2"/>
<rect x="424.48" y="177.75" width="17.18" height="18.68" fill="#d3e8ef"/>
<rect x="441.67" y="177.75" width="17.18" height="18.68" fill="#e3eff4"/>
<rect x="458.85" y="177.75" width="17.18" height="18.68" fill="#d6e9f0"/>
<rect x="476.03" y="177.75" width="17.18" height="18.68" fill="#cfe6ee"/>
<rect x="493.22" y="177.75" width="17.18" height="18.68" fill="#dbebf2"/>
<rect x="510.40" y="177.75" width="17.18" height="18.68" fill="#d6e9f0"/>
<rect x="527.58" y="177.75" width="17.18" height="18.68" fill="#d0e7ee"/>
<rect x="544.77" y="177.75" width="17.18" height="18.68" fill="#a8d4e1"/>
<rect x="561.95" y="177.75" width="17.18" height="18.68" fill="#b0d8e4"/>
<rect x="579.13" y="177.75" width="17.18" height="18.68" fill="#c8e4ec"/>
<rect x="596.32" y="177.75" width="17.18" height="18.68" fill="#c2e2ea"/>
<rect x="407.30" y="196.43" width="17.18" height="18.68" fill="#e4eff4"/>
<rect x="424.48" y="196.43" width="17.18" height="18.68" fill="#e4eff4"/>
<rect x="441.67" y="196.43" width="17.18" height="18.68" fill="#e4eff4"/>
<rect x="458.85" y="196.43" width="17.18" height="18.68" fill="#e4eff4"/>
<rect x="476.03" y="196.43" width="17.18" height="18.68" fill="#d7eaf0"/>
<rect x="493.22" y="196.43" width="17.18" height="18.68" fill="#e0edf3"/>
<rect x="510.40" y="196.43" width="17.18" height="18.68" fill="#e3eff4"/>
<rect x="527.58" y="196.43" width="17.18" height="18.68" fill="#e0edf3"/>
<rect x="544.77" y="196.43" width="17.18" height="18.68" fill="#c2e2ea"/>
<rect x="561.95" y="196.43" width="17.18" height="18.68" fill="#c5e3ea"/>
<rect x="579.13" y="196.43" width="17.18" height="18.68" fill="#d1e7ef"/>
<rect x="596.32" y="196.43" width="17.18" height="18.68" fill="#d3e8ef"/>
<rect x="407.30" y="215.11" width="17.18" height="18.68" fill="#e3eff4"/>
<rect x="424.48" y="215.11" width="17.18" height="18.68" fill="#d8eaf0"/>
<rect x="441.67" y="215.11" width="17.18" height="18.68" fill="#e4eff4"/>
<rect x="458.85" y="215.11" width="17.18" height="18.68" fill="#e6f0f5"/>
<rect x="476.03" y="215.11" width="17.18" height="18.68" fill="#d6e9f0"/>
<rect x="493.22" y="215.11" width="17.18" height="18.68" fill="#dcecf2"/>
<rect x="510.40" y="215.11" width="17.18" height="18.68" fill="#dfedf3"/>
<rect x="527.58" y="215.11" width="17.18" height="18.68" fill="#deedf2"/>
<rect x="544.77" y="215.11" width="17.18" height="18.68" fill="#bfe0e9"/>
<rect x="561.95" y="215.11" width="17.18" height="18.68" fill="#b9dee7"/>
<rect x="579.13" y="215.11" width="17.18" height="18.68" fill="#cbe4ed"/>
<rect x="596.32" y="215.11" width="17.18" height="18.68" fill="#c8e3ec"/>
<rect x="407.30" y="233.79" width="17.18" height="18.68" fill="#e3eff4"/>
<rect x="424.48" y="233.79" width="17.18" height="18.68" fill="#cfe6ee"/>
<rect x="441.67" y="233.79" width="17.18" height="18.68" fill="#e4eff4"/>
<rect x="458.85" y="233.79" width="17.18" height="18.68" fill="#d6e9f0"/>
<rect x="476.03" y="233.79" width="17.18" height="18.68" fill="#cbe4ed"/>
<rect x="493.22" y="233.79" width="17.18" height="18.68" fill="#d3e8ef"/>
<rect x="510.40" y="233.79" width="17.18" height="18.68" fill="#d8eaf0"/>
<rect x="527.58" y="233.79" width="17.18" height="18.68" fill="#d9ebf1"/>
<rect x="544.77" y="233.79" width="17.18" height="18.68" fill="#a8d4e1"/>
<rect x="561.95" y="233.79" width="17.18" height="18.68" fill="#a4d2e0"/>
<rect x="579.13" y="233.79" width="17.18" height="18.68" fill="#bcdfe8"/>
<rect x="596.32" y="233.79" width="17.18" height="18.68" fill="#a8d4e1"/>
<rect x="407.30" y="252.47" width="17.18" height="18.68" fill="#d8eaf0"/>
<rect x="424.48" y="252.47" width="17.18" height="18.68" fill="#d8eaf0"/>
<rect x="441.67" y="252.47" width="17.18" height="18.68" fill="#dcecf2"/>
<rect x="458.85" y="252.47" width="17.18" height="18.68" fill="#d4e9f0"/>
<rect x="476.03" y="252.47" width="17.18" height="18.68" fill="#e6f0f5"/>
<rect x="493.22" y="252.47" width="17.18" height="18.68" fill="#e3eff4"/>
<rect x="510.40" y="252.47" width="17.18" height="18.68" fill="#d8eaf0"/>
<rect x="527.58" y="252.47" width="17.18" height="18.68" fill="#d8eaf0"/>
<rect x="544.77" y="252.47" width="17.18" height="18.68" fill="#e8f1f6"/>
<rect x="561.95" y="252.47" width="17.18" height="18.68" fill="#d8eaf0"/>
<rect x="579.13" y="252.47" width="17.18" height="18.68" fill="#d6e9f0"/>
<rect x="596.32" y="252.47" width="17.18" height="18.68" fill="#d3e8ef"/>
<rect x="407.30" y="271.16" width="17.18" height="18.68" fill="#d3e8ef"/>
<rect x="424.48" y="271.16" width="17.18" height="18.68" fill="#c8e4ec"/>
<rect x="441.67" y="271.16" width="17.18" height="18.68" fill="#d8eaf0"/>
<rect x="458.85" y="271.16" width="17.18" height="18.68" fill="#cfe6ee"/>
<rect x="476.03" y="271.16" width="17.18" height="18.68" fill="#c2e2ea"/>
<rect x="493.22" y="271.16" width="17.18" height="18.68" fill="#cde5ed"/>
<rect x="510.40" y="271.16" width="17.18" height="18.68" fill="#bfe0e9"/>
<rect x="527.58" y="271.16" width="17.18" height="18.68" fill="#b9dee7"/>
<rect x="544.77" y="271.16" width="17.18" height="18.68" fill="#97ccdf"/>
<rect x="561.95" y="271.16" width="17.18" height="18.68" fill="#a1d0df"/>
<rect x="579.13" y="271.16" width="17.18" height="18.68" fill="#b0d8e4"/>
<rect x="596.32" y="271.16" width="17.18" height="18.68" fill="#97ccdf"/>
<rect x="407.30" y="289.84" width="17.18" height="18.68" fill="#e6f0f5"/>
<rect x="424.48" y="289.84" width="17.18" height="18.68" fill="#dcecf2"/>
<rect x="441.67" y="289.84" width="17.18" height="18.68" fill="#e3eff4"/>
<rect x="458.85" y="289.84" width="17.18" height="18.68" fill="#e3eff4"/>
<rect x="476.03" y="289.84" width="17.18" height="18.68" fill="#e0edf3"/>
<rect x="493.22" y="289.84" width="17.18" height="18.68" fill="#e0edf3"/>
<rect x="510.40" y="289.84" width="17.18" height="18.68" fill="#dcecf2"/>
<rect x="527.58" y="289.84" width="17.18" height="18.68" fill="#dcecf2"/>
<rect x="544.77" y="289.84" width="17.18" height="18.68" fill="#d1e7ef"/>
<rect x="561.95" y="289.84" width="17.18" height="18.68" fill="#d3e8ef"/>
<rect x="579.13" y="289.84" width="17.18" height="18.68" fill="#d6e9f0"/>
<rect x="596.32" y="289.84" width="17.18" height="18.68" fill="#dcecf2"/>
<rect x="407.30" y="308.52" width="17.18" height="18.68" fill="#d0e7ee"/>
<rect x="424.48" y="308.52" width="17.18" height="18.68" fill="#cde5ed"/>
<rect x="441.67" y="308.52" width="17.18" height="18.68" fill="#d8eaf0"/>
<rect x="458.85" y="308.52" width="17.18" height="18.68" fill="#d0e7ee"/>
<rect x="476.03" y="308.52" width="17.18" height="18.68" fill="#c5e3ea"/>
<rect x="493.22" y="308.52" width="17.18" height="18.68" fill="#cbe4ed"/>
<rect x="510.40" y="308.52" width="17.18" height="18.68" fill="#d3e8ef"/>
<rect x="527.58" y="308.52" width="17.18" height="18.68" fill="#cde5ed"/>
<rect x="544.77" y="308.52" width="17.18" height="18.68" fill="#cbe4ed"/>
<rect x="561.95" y="308.52" width="17.18" height="18.68" fill="#b5dae4"/>
<rect x="579.13" y="308.52" width="17.18" height="18.68" fill="#c8e4ec"/>
<rect x="596.32" y="308.52" width="17.18" height="18.68" fill="#cbe4ed"/>
<circle cx="415.89" cy="37.64" r="6.36" fill="#da929c" stroke="#2a2a2a" stroke-width="0.7"/>
<circle cx="433.07" cy="37.64" r="4.97" fill="#e7b7bd" stroke="#2a2a2a" stroke-width="0.7"/>
<circle cx="450.26" cy="37.64" r="5.61" fill="#e1a7ae" stroke="#2a2a2a" stroke-width="0.7"/>
<circle cx="467.44" cy="37.64" r="4.49" fill="#eac1c6" stroke="#2a2a2a" stroke-width="0.7"/>
<circle cx="484.62" cy="37.64" r="5.40" fill="#e3acb3" stroke="#2a2a2a" stroke-width="0.7"/>
<circle cx="501.81" cy="37.64" r="5.19" fill="#e5b2b8" stroke="#2a2a2a" stroke-width="0.7"/>
<circle cx="570.54" cy="37.64" r="5.80" fill="#dfa2aa" stroke="#2a2a2a" stroke-width="0.7"/>
<circle cx="587.73" cy="37.64" r="4.97" fill="#e7b7bd" stroke="#2a2a2a" stroke-width="0.7"/>
<circle cx="415.89" cy="56.32" r="5.99" fill="#dd9da5" stroke="#2a2a2a" stroke-width="0.7"/>
<circle cx="433.07" cy="56.32" r="3.96" fill="#eeccd0" stroke="#2a2a2a" stroke-width="0.7"/>
<circle cx="450.26" cy="56.32" r="6.53" fill="#d88d97" stroke="#2a2a2a" stroke-width="0.7"/>
<circle cx="467.44" cy="56.32" r="4.24" fill="#ecc6cb" stroke="#2a2a2a" stroke-width="0.7"/>
<circle cx="484.62" cy="56.32" r="4.49" fill="#eac1c6" stroke="#2a2a2a" stroke-width="0.7"/>
<circle cx="501.81" cy="56.32" r="4.34" fill="#ebc4c9" stroke="#2a2a2a" stroke-width="0.7"/>
<circle cx="518.99" cy="56.32" r="4.24" fill="#ecc6cb" stroke="#2a2a2a" stroke-width="0.7"/>
<circle cx="536.17" cy="56.32" r="4.97" fill="#e7b7bd" stroke="#2a2a2a" stroke-width="0.7"/>
<circle cx="570.54" cy="56.32" r="2.32" fill="#f7e4e6" stroke="#2a2a2a" stroke-width="0.7"/>
<circle cx="587.73" cy="56.32" r="4.49" fill="#eac1c6" stroke="#2a2a2a" stroke-width="0.7"/>
<circle cx="604.91" cy="56.32" r="1.90" fill="#f8e8e9" stroke="#2a2a2a" stroke-width="0.7"/>
<circle cx="415.89" cy="75.00" r="1.77" fill="#f8e9ea" stroke="#2a2a2a" stroke-width="0.7"/>
<circle cx="433.07" cy="75.00" r="1.77" fill="#f8e9ea" stroke="#2a2a2a" stroke-width="0.7"/>
<circle cx="467.44" cy="75.00" r="1.16" fill="#faedee" stroke="#2a2a2a" stroke-width="0.7"/>
<circle cx="484.62" cy="75.00" r="3.00" fill="#f4dbde" stroke="#2a2a2a" stroke-width="0.7"/>
<circle cx="501.81" cy="75.00" r="3.00" fill="#f4dbde" stroke="#2a2a2a" stroke-width="0.7"/>
<circle cx="518.99" cy="75.00" r="3.85" fill="#efced2" stroke="#2a2a2a" stroke-width="0.7"/>
<circle cx="536.17" cy="75.00" r="4.08" fill="#edcace" stroke="#2a2a2a" stroke-width="0.7"/>
<circle cx="553.36" cy="75.00" r="4.97" fill="#e7b7bd" stroke="#2a2a2a" stroke-width="0.7"/>
<circle cx="570.54" cy="75.00" r="5.61" fill="#e1a7ae" stroke="#2a2a2a" stroke-width="0.7"/>
<circle cx="587.73" cy="75.00" r="6.63" fill="#d78a94" stroke="#2a2a2a" stroke-width="0.7"/>
<circle cx="604.91" cy="75.00" r="4.74" fill="#e8bcc2" stroke="#2a2a2a" stroke-width="0.7"/>
<circle cx="415.89" cy="93.68" r="2.76" fill="#f5dee1" stroke="#2a2a2a" stroke-width="0.7"/>
<circle cx="433.07" cy="93.68" r="1.77" fill="#f8e9ea" stroke="#2a2a2a" stroke-width="0.7"/>
<circle cx="450.26" cy="93.68" r="2.51" fill="#f6e1e4" stroke="#2a2a2a" stroke-width="0.7"/>
<circle cx="484.62" cy="93.68" r="4.49" fill="#eac1c6" stroke="#2a2a2a" stroke-width="0.7"/>
<circle cx="501.81" cy="93.68" r="3.85" fill="#efced2" stroke="#2a2a2a" stroke-width="0.7"/>
<circle cx="518.99" cy="93.68" r="4.74" fill="#e8bcc2" stroke="#2a2a2a" stroke-width="0.7"/>
<circle cx="536.17" cy="93.68" r="5.10" fill="#e6b4ba" stroke="#2a2a2a" stroke-width="0.7"/>
<circle cx="553.36" cy="93.68" r="5.36" fill="#e3adb4" stroke="#2a2a2a" stroke-width="0.7"/>
<circle cx="570.54" cy="93.68" r="5.80" fill="#dfa2aa" stroke="#2a2a2a" stroke-width="0.7"/>
<circle cx="587.73" cy="93.68" r="6.70" fill="#d68892" stroke="#2a2a2a" stroke-width="0.7"/>
<circle cx="604.91" cy="93.68" r="4.97" fill="#e7b7bd" stroke="#2a2a2a" stroke-width="0.7"/>
<circle cx="415.89" cy="112.37" r="4.97" fill="#e7b7bd" stroke="#2a2a2a" stroke-width="0.7"/>
<circle cx="433.07" cy="112.37" r="3.21" fill="#f2d8db" stroke="#2a2a2a" stroke-width="0.7"/>
<circle cx="450.26" cy="112.37" r="5.36" fill="#e3adb4" stroke="#2a2a2a" stroke-width="0.7"/>
<circle cx="467.44" cy="112.37" r="2.32" fill="#f7e4e6" stroke="#2a2a2a" stroke-width="0.7"/>
<circle cx="484.62" cy="112.37" r="2.59" fill="#f5e0e3" stroke="#2a2a2a" stroke-width="0.7"/>
<circle cx="518.99" cy="112.37" r="3.21" fill="#f2d8db" stroke="#2a2a2a" stroke-width="0.7"/>
<circle cx="536.17" cy="112.37" r="3.67" fill="#f0d1d4" stroke="#2a2a2a" stroke-width="0.7"/>
<circle cx="553.36" cy="112.37" r="3.67" fill="#f0d1d4" stroke="#2a2a2a" stroke-width="0.7"/>
<circle cx="570.54" cy="112.37" r="5.61" fill="#e1a7ae" stroke="#2a2a2a" stroke-width="0.7"/>
<circle cx="587.73" cy="112.37" r="6.43" fill="#d9909a" stroke="#2a2a2a" stroke-width="0.7"/>
<circle cx="604.91" cy="112.37" r="3.48" fill="#f1d4d7" stroke="#2a2a2a" stroke-width="0.7"/>
<circle cx="415.89" cy="131.05" r="3.42" fill="#f1d5d8" stroke="#2a2a2a" stroke-width="0.7"/>
<circle cx="433.07" cy="131.05" r="3.42" fill="#f1d5d8" stroke="#2a2a2a" stroke-width="0.7"/>
<circle cx="450.26" cy="131.05" r="3.21" fill="#f2d8db" stroke="#2a2a2a" stroke-width="0.7"/>
<circle cx="467.44" cy="131.05" r="3.21" fill="#f2d8db" stroke="#2a2a2a" stroke-width="0.7"/>
<circle cx="484.62" cy="131.05" r="2.12" fill="#f7e6e8" stroke="#2a2a2a" stroke-width="0.7"/>
<circle cx="501.81" cy="131.05" r="4.24" fill="#ecc6cb" stroke="#2a2a2a" stroke-width="0.7"/>
<circle cx="518.99" cy="131.05" r="3.67" fill="#f0d1d4" stroke="#2a2a2a" stroke-width="0.7"/>
<circle cx="536.17" cy="131.05" r="3.85" fill="#efced2" stroke="#2a2a2a" stroke-width="0.7"/>
<circle cx="570.54" cy="131.05" r="6.43" fill="#d9909a" stroke="#2a2a2a" stroke-width="0.7"/>
<circle cx="587.73" cy="131.05" r="6.29" fill="#da949d" stroke="#2a2a2a" stroke-width="0.7"/>
<circle cx="604.91" cy="131.05" r="4.74" fill="#e8bcc2" stroke="#2a2a2a" stroke-width="0.7"/>
<circle cx="415.89" cy="149.73" r="1.64" fill="#f9eaeb" stroke="#2a2a2a" stroke-width="0.7"/>
<circle cx="433.07" cy="149.73" r="0.95" fill="#faeeef" stroke="#2a2a2a" stroke-width="0.7"/>
<circle cx="450.26" cy="149.73" r="0.95" fill="#faeeef" stroke="#2a2a2a" stroke-width="0.7"/>
<circle cx="484.62" cy="149.73" r="1.64" fill="#f9eaeb" stroke="#2a2a2a" stroke-width="0.7"/>
<circle cx="501.81" cy="149.73" r="1.64" fill="#f9eaeb" stroke="#2a2a2a" stroke-width="0.7"/>
<circle cx="518.99" cy="149.73" r="5.36" fill="#e3adb4" stroke="#2a2a2a" stroke-width="0.7"/>
<circle cx="536.17" cy="149.73" r="5.69" fill="#e0a5ad" stroke="#2a2a2a" stroke-width="0.7"/>
<circle cx="553.36" cy="149.73" r="3.67" fill="#f0d1d4" stroke="#2a2a2a" stroke-width="0.7"/>
<circle cx="570.54" cy="149.73" r="6.18" fill="#dc98a0" stroke="#2a2a2a" stroke-width="0.7"/>
<circle cx="587.73" cy="149.73" r="6.63" fill="#d78a94" stroke="#2a2a2a" stroke-width="0.7"/>
<circle cx="604.91" cy="149.73" r="6.07" fill="#dd9ba3" stroke="#2a2a2a" stroke-width="0.7"/>
<circle cx="415.89" cy="168.41" r="0.82" fill="#faeef0" stroke="#2a2a2a" stroke-width="0.7"/>
<circle cx="450.26" cy="168.41" r="3.00" fill="#f4dbde" stroke="#2a2a2a" stroke-width="0.7"/>
<circle cx="467.44" cy="168.41" r="3.00" fill="#f4dbde" stroke="#2a2a2a" stroke-width="0.7"/>
<circle cx="484.62" cy="168.41" r="1.90" fill="#f8e8e9" stroke="#2a2a2a" stroke-width="0.7"/>
<circle cx="501.81" cy="168.41" r="1.64" fill="#f9eaeb" stroke="#2a2a2a" stroke-width="0.7"/>
<circle cx="518.99" cy="168.41" r="4.49" fill="#eac1c6" stroke="#2a2a2a" stroke-width="0.7"/>
<circle cx="536.17" cy="168.41" r="4.97" fill="#e7b7bd" stroke="#2a2a2a" stroke-width="0.7"/>
<circle cx="553.36" cy="168.41" r="5.28" fill="#e4b0b6" stroke="#2a2a2a" stroke-width="0.7"/>
<circle cx="570.54" cy="168.41" r="5.69" fill="#e0a5ad" stroke="#2a2a2a" stroke-width="0.7"/>
<circle cx="587.73" cy="168.41" r="6.43" fill="#d9909a" stroke="#2a2a2a" stroke-width="0.7"/>
<circle cx="604.91" cy="168.41" r="6.21" fill="#db979f" stroke="#2a2a2a" stroke-width="0.7"/>
<circle cx="415.89" cy="187.09" r="1.50" fill="#f9ebec" stroke="#2a2a2a" stroke-width="0.7"/>
<circle cx="433.07" cy="187.09" r="1.90" fill="#f8e8e9" stroke="#2a2a2a" stroke-width="0.7"/>
<circle cx="467.44" cy="187.09" r="1.64" fill="#f9eaeb" stroke="#2a2a2a" stroke-width="0.7"/>
<circle cx="484.62" cy="187.09" r="3.42" fill="#f1d5d8" stroke="#2a2a2a" stroke-width="0.7"/>
<circle cx="501.81" cy="187.09" r="2.76" fill="#f5dee1" stroke="#2a2a2a" stroke-width="0.7"/>
<circle cx="518.99" cy="187.09" r="3.00" fill="#f4dbde" stroke="#2a2a2a" stroke-width="0.7"/>
<circle cx="536.17" cy="187.09" r="3.21" fill="#f2d8db" stroke="#2a2a2a" stroke-width="0.7"/>
<circle cx="553.36" cy="187.09" r="5.61" fill="#e1a7ae" stroke="#2a2a2a" stroke-width="0.7"/>
<circle cx="570.54" cy="187.09" r="6.43" fill="#d9909a" stroke="#2a2a2a" stroke-width="0.7"/>
<circle cx="587.73" cy="187.09" r="5.40" fill="#e3acb3" stroke="#2a2a2a" stroke-width="0.7"/>
<circle cx="604.91" cy="187.09" r="5.40" fill="#e3acb3" stroke="#2a2a2a" stroke-width="0.7"/>
<circle cx="415.89" cy="205.77" r="0.82" fill="#faeef0" stroke="#2a2a2a" stroke-width="0.7"/>
<circle cx="433.07" cy="205.77" r="2.12" fill="#f7e6e8" stroke="#2a2a2a" stroke-width="0.7"/>
<circle cx="467.44" cy="205.77" r="1.64" fill="#f9eaeb" stroke="#2a2a2a" stroke-width="0.7"/>
<circle cx="484.62" cy="205.77" r="3.21" fill="#f2d8db" stroke="#2a2a2a" stroke-width="0.7"/>
<circle cx="501.81" cy="205.77" r="2.76" fill="#f5dee1" stroke="#2a2a2a" stroke-width="0.7"/>
<circle cx="518.99" cy="205.77" r="2.76" fill="#f5dee1" stroke="#2a2a2a" stroke-width="0.7"/>
<circle cx="536.17" cy="205.77" r="3.00" fill="#f4dbde" stroke="#2a2a2a" stroke-width="0.7"/>
<circle cx="553.36" cy="205.77" r="5.40" fill="#e3acb3" stroke="#2a2a2a" stroke-width="0.7"/>
<circle cx="570.54" cy="205.77" r="6.43" fill="#d9909a" stroke="#2a2a2a" stroke-width="0.7"/>
<circle cx="587.73" cy="205.77" r="5.40" fill="#e3acb3" stroke="#2a2a2a" stroke-width="0.7"/>
<circle cx="604.91" cy="205.77" r="5.40" fill="#e3acb3" stroke="#2a2a2a" stroke-width="0.7"/>
<circle cx="415.89" cy="224.45" r="1.64" fill="#f9eaeb" stroke="#2a2a2a" stroke-width="0.7"/>
<circle cx="433.07" cy="224.45" r="2.32" fill="#f7e4e6" stroke="#2a2a2a" stroke-width="0.7"/>
<circle cx="467.44" cy="224.45" r="1.90" fill="#f8e8e9" stroke="#2a2a2a" stroke-width="0.7"/>
<circle cx="484.62" cy="224.45" r="3.21" fill="#f2d8db" stroke="#2a2a2a" stroke-width="0.7"/>
<circle cx="501.81" cy="224.45" r="3.00" fill="#f4dbde" stroke="#2a2a2a" stroke-width="0.7"/>
<circle cx="518.99" cy="224.45" r="3.00" fill="#f4dbde" stroke="#2a2a2a" stroke-width="0.7"/>
<circle cx="536.17" cy="224.45" r="3.21" fill="#f2d8db" stroke="#2a2a2a" stroke-width="0.7"/>
<circle cx="553.36" cy="224.45" r="5.40" fill="#e3acb3" stroke="#2a2a2a" stroke-width="0.7"/>
<circle cx="570.54" cy="224.45" r="6.70" fill="#d68892" stroke="#2a2a2a" stroke-width="0.7"/>
<circle cx="587.73" cy="224.45" r="5.61" fill="#e1a7ae" stroke="#2a2a2a" stroke-width="0.7"/>
<circle cx="604.91" cy="224.45" r="5.61" fill="#e1a7ae" stroke="#2a2a2a" stroke-width="0.7"/>
<circle cx="415.89" cy="243.13" r="0.82" fill="#faeef0" stroke="#2a2a2a" stroke-width="0.7"/>
<circle cx="433.07" cy="243.13" r="1.64" fill="#f9eaeb" stroke="#2a2a2a" stroke-width="0.7"/>
<circle cx="467.44" cy="243.13" r="1.50" fill="#f9ebec" stroke="#2a2a2a" stroke-width="0.7"/>
<circle cx="484.62" cy="243.13" r="3.67" fill="#f0d1d4" stroke="#2a2a2a" stroke-width="0.7"/>
<circle cx="501.81" cy="243.13" r="3.00" fill="#f4dbde" stroke="#2a2a2a" stroke-width="0.7"/>
<circle cx="518.99" cy="243.13" r="3.21" fill="#f2d8db" stroke="#2a2a2a" stroke-width="0.7"/>
<circle cx="536.17" cy="243.13" r="3.00" fill="#f4dbde" stroke="#2a2a2a" stroke-width="0.7"/>
<circle cx="553.36" cy="243.13" r="5.40" fill="#e3acb3" stroke="#2a2a2a" stroke-width="0.7"/>
<circle cx="570.54" cy="243.13" r="6.53" fill="#d88d97" stroke="#2a2a2a" stroke-width="0.7"/>
<circle cx="587.73" cy="243.13" r="6.07" fill="#dd9ba3" stroke="#2a2a2a" stroke-width="0.7"/>
<circle cx="604.91" cy="243.13" r="6.07" fill="#dd9ba3" stroke="#2a2a2a" stroke-width="0.7"/>
<circle cx="415.89" cy="261.82" r="5.36" fill="#e3adb4" stroke="#2a2a2a" stroke-width="0.7"/>
<circle cx="433.07" cy="261.82" r="5.36" fill="#e3adb4" stroke="#2a2a2a" stroke-width="0.7"/>
<circle cx="450.26" cy="261.82" r="4.97" fill="#e7b7bd" stroke="#2a2a2a" stroke-width="0.7"/>
<circle cx="467.44" cy="261.82" r="5.36" fill="#e3adb4" stroke="#2a2a2a" stroke-width="0.7"/>
<circle cx="501.81" cy="261.82" r="3.85" fill="#efced2" stroke="#2a2a2a" stroke-width="0.7"/>
<circle cx="518.99" cy="261.82" r="5.80" fill="#dfa2aa" stroke="#2a2a2a" stroke-width="0.7"/>
<circle cx="536.17" cy="261.82" r="5.40" fill="#e3acb3" stroke="#2a2a2a" stroke-width="0.7"/>
<circle cx="570.54" cy="261.82" r="5.19" fill="#e5b2b8" stroke="#2a2a2a" stroke-width="0.7"/>
<circle cx="587.73" cy="261.82" r="5.69" fill="#e0a5ad" stroke="#2a2a2a" stroke-width="0.7"/>
<circle cx="604.91" cy="261.82" r="6.43" fill="#d9909a" stroke="#2a2a2a" stroke-width="0.7"/>
<circle cx="415.89" cy="280.50" r="1.64" fill="#f9eaeb" stroke="#2a2a2a" stroke-width="0.7"/>
<circle cx="433.07" cy="280.50" r="1.64" fill="#f9eaeb" stroke="#2a2a2a" stroke-width="0.7"/>
<circle cx="450.26" cy="280.50" r="0.67" fill="#fbeff0" stroke="#2a2a2a" stroke-width="0.7"/>
<circle cx="484.62" cy="280.50" r="3.85" fill="#efced2" stroke="#2a2a2a" stroke-width="0.7"/>
<circle cx="501.81" cy="280.50" r="3.00" fill="#f4dbde" stroke="#2a2a2a" stroke-width="0.7"/>
<circle cx="518.99" cy="280.50" r="4.74" fill="#e8bcc2" stroke="#2a2a2a" stroke-width="0.7"/>
<circle cx="536.17" cy="280.50" r="4.97" fill="#e7b7bd" stroke="#2a2a2a" stroke-width="0.7"/>
<circle cx="553.36" cy="280.50" r="6.07" fill="#dd9ba3" stroke="#2a2a2a" stroke-width="0.7"/>
<circle cx="570.54" cy="280.50" r="6.43" fill="#d9909a" stroke="#2a2a2a" stroke-width="0.7"/>
<circle cx="587.73" cy="280.50" r="6.07" fill="#dd9ba3" stroke="#2a2a2a" stroke-width="0.7"/>
<circle cx="604.91" cy="280.50" r="6.63" fill="#d78a94" stroke="#2a2a2a" stroke-width="0.7"/>
<circle cx="433.07" cy="299.18" r="2.12" fill="#f7e6e8" stroke="#2a2a2a" stroke-width="0.7"/>
<circle cx="450.26" cy="299.18" r="1.64" fill="#f9eaeb" stroke="#2a2a2a" stroke-width="0.7"/>
<circle cx="467.44" cy="299.18" r="1.77" fill="#f8e9ea" stroke="#2a2a2a" stroke-width="0.7"/>
<circle cx="484.62" cy="299.18" r="2.76" fill="#f5dee1" stroke="#2a2a2a" stroke-width="0.7"/>
<circle cx="501.81" cy="299.18" r="2.76" fill="#f5dee1" stroke="#2a2a2a" stroke-width="0.7"/>
<circle cx="518.99" cy="299.18" r="5.19" fill="#e5b2b8" stroke="#2a2a2a" stroke-width="0.7"/>
<circle cx="536.17" cy="299.18" r="5.19" fill="#e5b2b8" stroke="#2a2a2a" stroke-width="0.7"/>
<circle cx="553.36" cy="299.18" r="5.61" fill="#e1a7ae" stroke="#2a2a2a" stroke-width="0.7"/>
<circle cx="570.54" cy="299.18" r="6.18" fill="#dc98a0" stroke="#2a2a2a" stroke-width="0.7"/>
<circle cx="587.73" cy="299.18" r="6.63" fill="#d78a94" stroke="#2a2a2a" stroke-width="0.7"/>
<circle cx="604.91" cy="299.18" r="4.74" fill="#e8bcc2" stroke="#2a2a2a" stroke-width="0.7"/>
<circle cx="415.89" cy="317.86" r="2.59" fill="#f5e0e3" stroke="#2a2a2a" stroke-width="0.7"/>
<circle cx="433.07" cy="317.86" r="2.12" fill="#f7e6e8" stroke="#2a2a2a" stroke-width="0.7"/>
<circle cx="450.26" cy="317.86" r="2.32" fill="#f7e4e6" stroke="#2a2a2a" stroke-width="0.7"/>
<circle cx="484.62" cy="317.86" r="3.21" fill="#f2d8db" stroke="#2a2a2a" stroke-width="0.7"/>
<circle cx="501.81" cy="317.86" r="3.21" fill="#f2d8db" stroke="#2a2a2a" stroke-width="0.7"/>
<circle cx="518.99" cy="317.86" r="3.21" fill="#f2d8db" stroke="#2a2a2a" stroke-width="0.7"/>
<circle cx="536.17" cy="317.86" r="3.48" fill="#f1d4d7" stroke="#2a2a2a" stroke-width="0.7"/>
<circle cx="553.36" cy="317.86" r="3.85" fill="#efced2" stroke="#2a2a2a" stroke-width="0.7"/>
<circle cx="570.54" cy="317.86" r="6.70" fill="#d68892" stroke="#2a2a2a" stroke-width="0.7"/>
<circle cx="587.73" cy="317.86" r="5.40" fill="#e3acb3" stroke="#2a2a2a" stroke-width="0.7"/>
<circle cx="604.91" cy="317.86" r="4.74" fill="#e8bcc2" stroke="#2a2a2a" stroke-width="0.7"/>
<path d="M407.30 28.3V327.2M424.48 28.3V327.2M441.67 28.3V327.2M458.85 28.3V327.2M476.03 28.3V327.2M493.22 28.3V327.2M510.40 28.3V327.2M527.58 28.3V327.2M544.77 28.3V327.2M561.95 28.3V327.2M579.13 28.3V327.2M596.32 28.3V327.2M613.50 28.3V327.2M407.3 28.30H613.5M407.3 46.98H613.5M407.3 65.66H613.5M407.3 84.34H613.5M407.3 103.02H613.5M407.3 121.71H613.5M407.3 140.39H613.5M407.3 159.07H613.5M407.3 177.75H613.5M407.3 196.43H613.5M407.3 215.11H613.5M407.3 233.79H613.5M407.3 252.47H613.5M407.3 271.16H613.5M407.3 289.84H613.5M407.3 308.52H613.5M407.3 327.20H613.5" stroke="#0e0e0e" stroke-width="0.85" fill="none"/>
<text x="617.5" y="41.14" font-family="Liberation Serif" font-weight="bold" font-size="9.1" class="md">Asp</text>
<text x="617.5" y="59.82" font-family="Liberation Serif" font-weight="bold" font-size="9.1" class="md">Glu</text>
<text x="617.5" y="78.50" font-family="Liberation Serif" font-weight="bold" font-size="9.1" class="md">Gly</text>
<text x="617.5" y="97.18" font-family="Liberation Serif" font-weight="bold" font-size="9.1" class="md">Ala</text>
<text x="617.5" y="115.87" font-family="Liberation Serif" font-weight="bold" font-size="9.1" class="md">Thr</text>
<text x="617.5" y="134.55" font-family="Liberation Serif" font-weight="bold" font-size="9.1" class="md">Ser</text>
<text x="617.5" y="153.23" font-family="Liberation Serif" font-weight="bold" font-size="9.1" class="md">Lys</text>
<text x="617.5" y="171.91" font-family="Liberation Serif" font-weight="bold" font-size="9.1" class="md">Cys</text>
<text x="617.5" y="190.59" font-family="Liberation Serif" font-weight="bold" font-size="9.1" class="md">Val</text>
<text x="617.5" y="209.27" font-family="Liberation Serif" font-weight="bold" font-size="9.1" class="md">Met</text>
<text x="617.5" y="227.95" font-family="Liberation Serif" font-weight="bold" font-size="9.1" class="md">Ile</text>
<text x="617.5" y="246.63" font-family="Liberation Serif" font-weight="bold" font-size="9.1" class="md">Leu</text>
<text x="617.5" y="265.32" font-family="Liberation Serif" font-weight="bold" font-size="9.1" class="md">Tyr</text>
<text x="617.5" y="284.00" font-family="Liberation Serif" font-weight="bold" font-size="9.1" class="md">Phe</text>
<text x="617.5" y="302.68" font-family="Liberation Serif" font-weight="bold" font-size="9.1" class="md">His</text>
<text x="617.5" y="321.36" font-family="Liberation Serif" font-weight="bold" font-size="9.1" class="md">Pro</text>
<text transform="translate(416.99,330.6) rotate(-45)" font-family="Liberation Serif" font-weight="bold" font-size="9.4" text-anchor="end" dominant-baseline="hanging" class="md">0D-C0</text>
<text transform="translate(434.18,330.6) rotate(-45)" font-family="Liberation Serif" font-weight="bold" font-size="9.4" text-anchor="end" dominant-baseline="hanging" class="md">0D-C1</text>
<text transform="translate(451.36,330.6) rotate(-45)" font-family="Liberation Serif" font-weight="bold" font-size="9.4" text-anchor="end" dominant-baseline="hanging" class="md">0D-LR1</text>
<text transform="translate(468.54,330.6) rotate(-45)" font-family="Liberation Serif" font-weight="bold" font-size="9.4" text-anchor="end" dominant-baseline="hanging" class="md">0D-LR2</text>
<text transform="translate(485.73,330.6) rotate(-45)" font-family="Liberation Serif" font-weight="bold" font-size="9.4" text-anchor="end" dominant-baseline="hanging" class="md">3D-C0</text>
<text transform="translate(502.91,330.6) rotate(-45)" font-family="Liberation Serif" font-weight="bold" font-size="9.4" text-anchor="end" dominant-baseline="hanging" class="md">3D-C1</text>
<text transform="translate(520.09,330.6) rotate(-45)" font-family="Liberation Serif" font-weight="bold" font-size="9.4" text-anchor="end" dominant-baseline="hanging" class="md">3D-LR1</text>
<text transform="translate(537.27,330.6) rotate(-45)" font-family="Liberation Serif" font-weight="bold" font-size="9.4" text-anchor="end" dominant-baseline="hanging" class="md">3D-LR2</text>
<text transform="translate(554.46,330.6) rotate(-45)" font-family="Liberation Serif" font-weight="bold" font-size="9.4" text-anchor="end" dominant-baseline="hanging" class="md">12D-C0</text>
<text transform="translate(571.64,330.6) rotate(-45)" font-family="Liberation Serif" font-weight="bold" font-size="9.4" text-anchor="end" dominant-baseline="hanging" class="md">12D-C1</text>
<text transform="translate(588.83,330.6) rotate(-45)" font-family="Liberation Serif" font-weight="bold" font-size="9.4" text-anchor="end" dominant-baseline="hanging" class="md">12D-LR1</text>
<text transform="translate(606.01,330.6) rotate(-45)" font-family="Liberation Serif" font-weight="bold" font-size="9.4" text-anchor="end" dominant-baseline="hanging" class="md">12D-LR2</text>
<defs><linearGradient id="cb" x1="0" y1="1" x2="0" y2="0"><stop offset="0" stop-color="#e8f0f6"/><stop offset="0.5" stop-color="#a2d0e0"/><stop offset="1" stop-color="#66aecf"/></linearGradient></defs>
<rect x="653" y="40.1" width="14.1" height="100.9" fill="url(#cb)" stroke="#333" stroke-width="0.8"/>
<path d="M667.1 141.00h2" stroke="#333" stroke-width="0.7"/>
<text x="669.9" y="143.75" font-family="Liberation Serif" font-weight="bold" font-size="7.8" class="md">0.00</text>
<path d="M667.1 120.82h2" stroke="#333" stroke-width="0.7"/>
<text x="669.9" y="123.57" font-family="Liberation Serif" font-weight="bold" font-size="7.8" class="md">0.20</text>
<path d="M667.1 100.64h2" stroke="#333" stroke-width="0.7"/>
<text x="669.9" y="103.39" font-family="Liberation Serif" font-weight="bold" font-size="7.8" class="md">0.40</text>
<path d="M667.1 80.46h2" stroke="#333" stroke-width="0.7"/>
<text x="669.9" y="83.21" font-family="Liberation Serif" font-weight="bold" font-size="7.8" class="md">0.60</text>
<path d="M667.1 60.28h2" stroke="#333" stroke-width="0.7"/>
<text x="669.9" y="63.03" font-family="Liberation Serif" font-weight="bold" font-size="7.8" class="md">0.80</text>
<path d="M667.1 40.10h2" stroke="#333" stroke-width="0.7"/>
<text x="669.9" y="42.85" font-family="Liberation Serif" font-weight="bold" font-size="7.8" class="md">1.00</text>
<circle cx="661.4" cy="160.2" r="3.30" fill="#f4dbde" stroke="#2a2a2a" stroke-width="0.7"/>
<text x="669.8" y="162.95" font-family="Liberation Serif" font-weight="bold" font-size="7.8" class="md">0.20</text>
<circle cx="661.4" cy="176.5" r="4.20" fill="#ecc6cb" stroke="#2a2a2a" stroke-width="0.7"/>
<text x="669.8" y="179.25" font-family="Liberation Serif" font-weight="bold" font-size="7.8" class="md">0.40</text>
<circle cx="661.4" cy="193" r="4.85" fill="#e5b2b8" stroke="#2a2a2a" stroke-width="0.7"/>
<text x="669.8" y="195.75" font-family="Liberation Serif" font-weight="bold" font-size="7.8" class="md">0.60</text>
<circle cx="661.4" cy="209.6" r="6.00" fill="#dd9da5" stroke="#2a2a2a" stroke-width="0.7"/>
<text x="669.8" y="212.35" font-family="Liberation Serif" font-weight="bold" font-size="7.8" class="md">0.80</text>
<circle cx="661.4" cy="225.8" r="6.55" fill="#d68892" stroke="#2a2a2a" stroke-width="0.7"/>
<text x="669.8" y="228.55" font-family="Liberation Serif" font-weight="bold" font-size="7.8" class="md">1.00</text>
</svg>
</body></html>
